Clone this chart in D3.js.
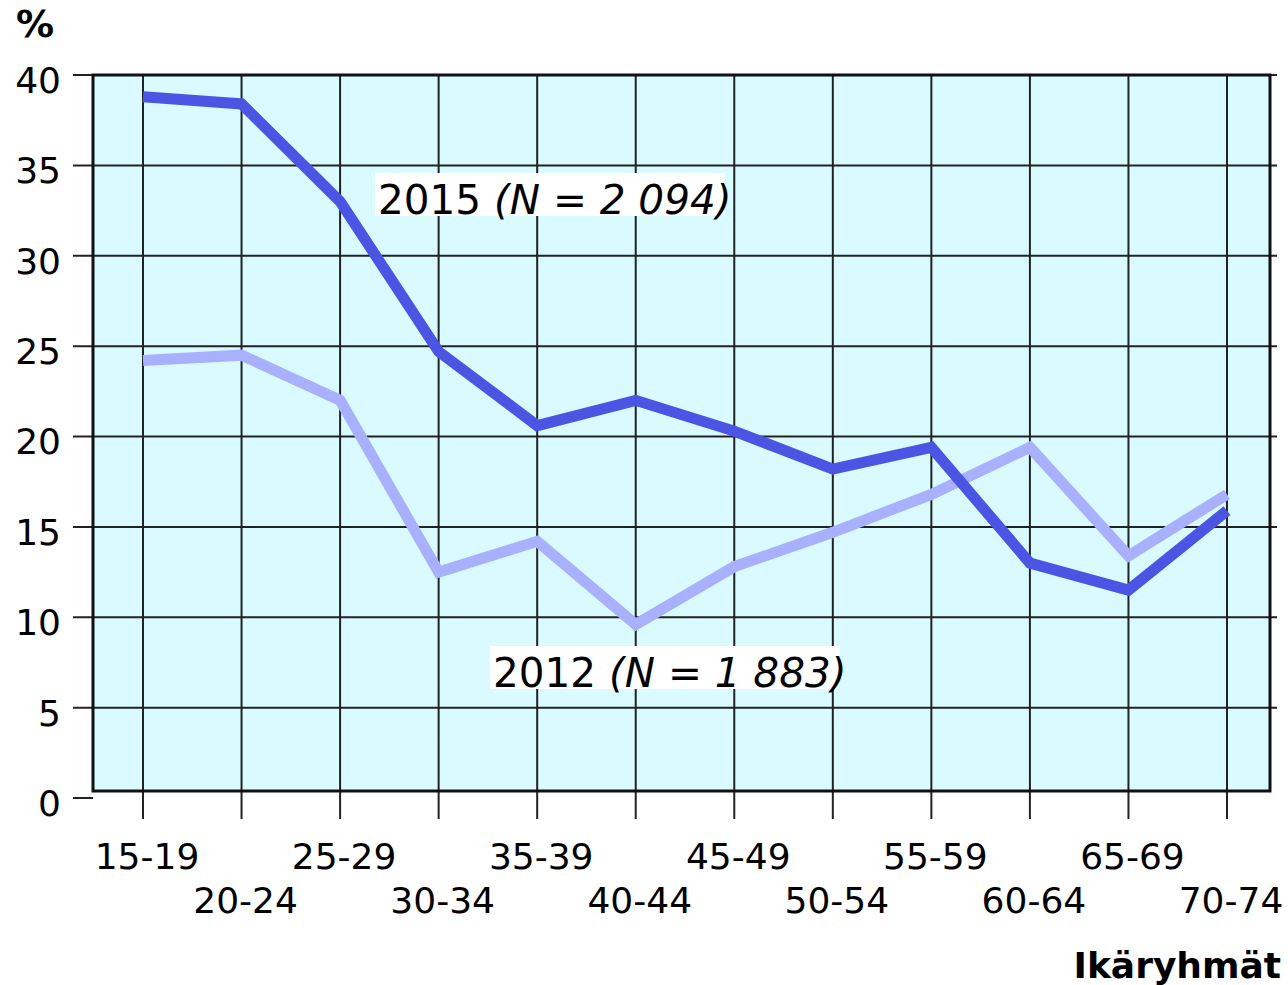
<!DOCTYPE html>
<html lang="fi">
    <head>
        <meta charset="utf-8">
        <title>Ikäryhmät</title>
        <script src="https://cdnjs.cloudflare.com/ajax/libs/d3/7.8.5/d3.min.js" charset="utf-8"></script>
        <style>
        body {
          margin: 0;
          background: #fff;
          font-family: 'DejaVu Sans', Verdana, sans-serif;
        }
        svg { display: block; }
        </style>
    </head>
    <body>
        <svg></svg>
        <script type="text/javascript">
            // age groups and shares (%)
            var ageGroups = ["15-19", "20-24", "25-29", "30-34", "35-39", "40-44",
                             "45-49", "50-54", "55-59", "60-64", "65-69", "70-74"];
            var values2015 = [38.8, 38.4, 33.0, 24.7, 20.6, 22.0, 20.3, 18.2, 19.4, 13.0, 11.5, 15.9];
            var values2012 = [24.2, 24.5, 22.0, 12.5, 14.2, 9.6, 12.8, 14.7, 16.8, 19.4, 13.4, 16.8];
            var yTicks = [0, 5, 10, 15, 20, 25, 30, 35, 40];

            var width = 1288;
            var height = 985;

            var svg = d3.select("svg")
                .attr("width", width)
                .attr("height", height);

            // plot box
            var boxLeft = 93, boxRight = 1270, boxTop = 75, boxBottom = 791;

            var xScale = d3.scalePoint()
                .domain(ageGroups)
                .range([143, 1227]);

            var yScale = d3.scaleLinear()
                .domain([0, 40])
                .range([798, 75]);

            svg.append("rect")
                .attr("x", boxLeft)
                .attr("y", boxTop)
                .attr("width", boxRight - boxLeft)
                .attr("height", boxBottom - boxTop)
                .attr("fill", "#d9fbff");

            // horizontal grid + left ticks
            svg.append("g")
                .selectAll("line")
                .data(yTicks.filter(d => d > 0))
                .enter()
                .append("line")
                  .attr("x1", 73)
                  .attr("x2", 1277)
                  .attr("y1", d => yScale(d))
                  .attr("y2", d => yScale(d))
                  .attr("stroke", "#222")
                  .attr("stroke-width", 2);

            // zero tick sits just below the box
            svg.append("line")
                .attr("x1", 73)
                .attr("x2", boxLeft)
                .attr("y1", yScale(0))
                .attr("y2", yScale(0))
                .attr("stroke", "#222")
                .attr("stroke-width", 2);

            // vertical grid + bottom ticks
            svg.append("g")
                .selectAll("line")
                .data(ageGroups)
                .enter()
                .append("line")
                  .attr("x1", d => xScale(d))
                  .attr("x2", d => xScale(d))
                  .attr("y1", boxTop)
                  .attr("y2", 819)
                  .attr("stroke", "#222")
                  .attr("stroke-width", 2);

            svg.append("rect")
                .attr("x", boxLeft)
                .attr("y", boxTop)
                .attr("width", boxRight - boxLeft)
                .attr("height", boxBottom - boxTop)
                .attr("fill", "none")
                .attr("stroke", "#111")
                .attr("stroke-width", 3);

            // y tick labels
            svg.append("g")
                .selectAll("text")
                .data(yTicks)
                .enter()
                .append("text")
                  .attr("x", 61)
                  .attr("y", d => yScale(d) + 5)
                  .attr("dy", "0.36em")
                  .attr("text-anchor", "end")
                  .style("font-size", "36px")
                  .text(d => d);

            // x tick labels, staggered on two rows
            svg.append("g")
                .selectAll("text")
                .data(ageGroups)
                .enter()
                .append("text")
                  .attr("x", d => xScale(d) + 4)
                  .attr("y", (d, i) => i % 2 === 0 ? 869 : 913)
                  .attr("text-anchor", "middle")
                  .style("font-size", "36px")
                  .text(d => d);

            svg.append("text")
                .attr("x", 16)
                .attr("y", 37)
                .style("font-size", "38px")
                .style("font-weight", "bold")
                .text("%");

            svg.append("text")
                .attr("x", 1281)
                .attr("y", 978)
                .attr("text-anchor", "end")
                .style("font-size", "36px")
                .style("font-weight", "bold")
                .text("Ikäryhmät");

            var line = d3.line()
                .x((d, i) => xScale(ageGroups[i]))
                .y(d => yScale(d));

            svg.append("path")
                .datum(values2012)
                .attr("d", line)
                .attr("fill", "none")
                .attr("stroke", "#a8b0ff")
                .attr("stroke-width", 11);

            svg.append("path")
                .datum(values2015)
                .attr("d", line)
                .attr("fill", "none")
                .attr("stroke", "#4b55e3")
                .attr("stroke-width", 11);

            // series labels with white backgrounds
            function seriesLabel(x, y, year, n) {
                var g = svg.append("g");
                var bg = g.append("rect").attr("fill", "#fff");
                var t = g.append("text")
                    .attr("x", x)
                    .attr("y", y)
                    .style("font-size", "40.5px");
                t.append("tspan").text(year + " ");
                t.append("tspan").style("font-style", "italic").text("(N = " + n);
                t.append("tspan").style("font-style", "italic").text(")");
                var bb = t.node().getBBox();
                bg.attr("x", x - 3)
                  .attr("y", y - 41)
                  .attr("width", bb.width - 4)
                  .attr("height", 43);
            }

            seriesLabel(378, 214, "2015", "2 094");
            seriesLabel(493, 687, "2012", "1 883");
        </script>
    </body>
</html>
